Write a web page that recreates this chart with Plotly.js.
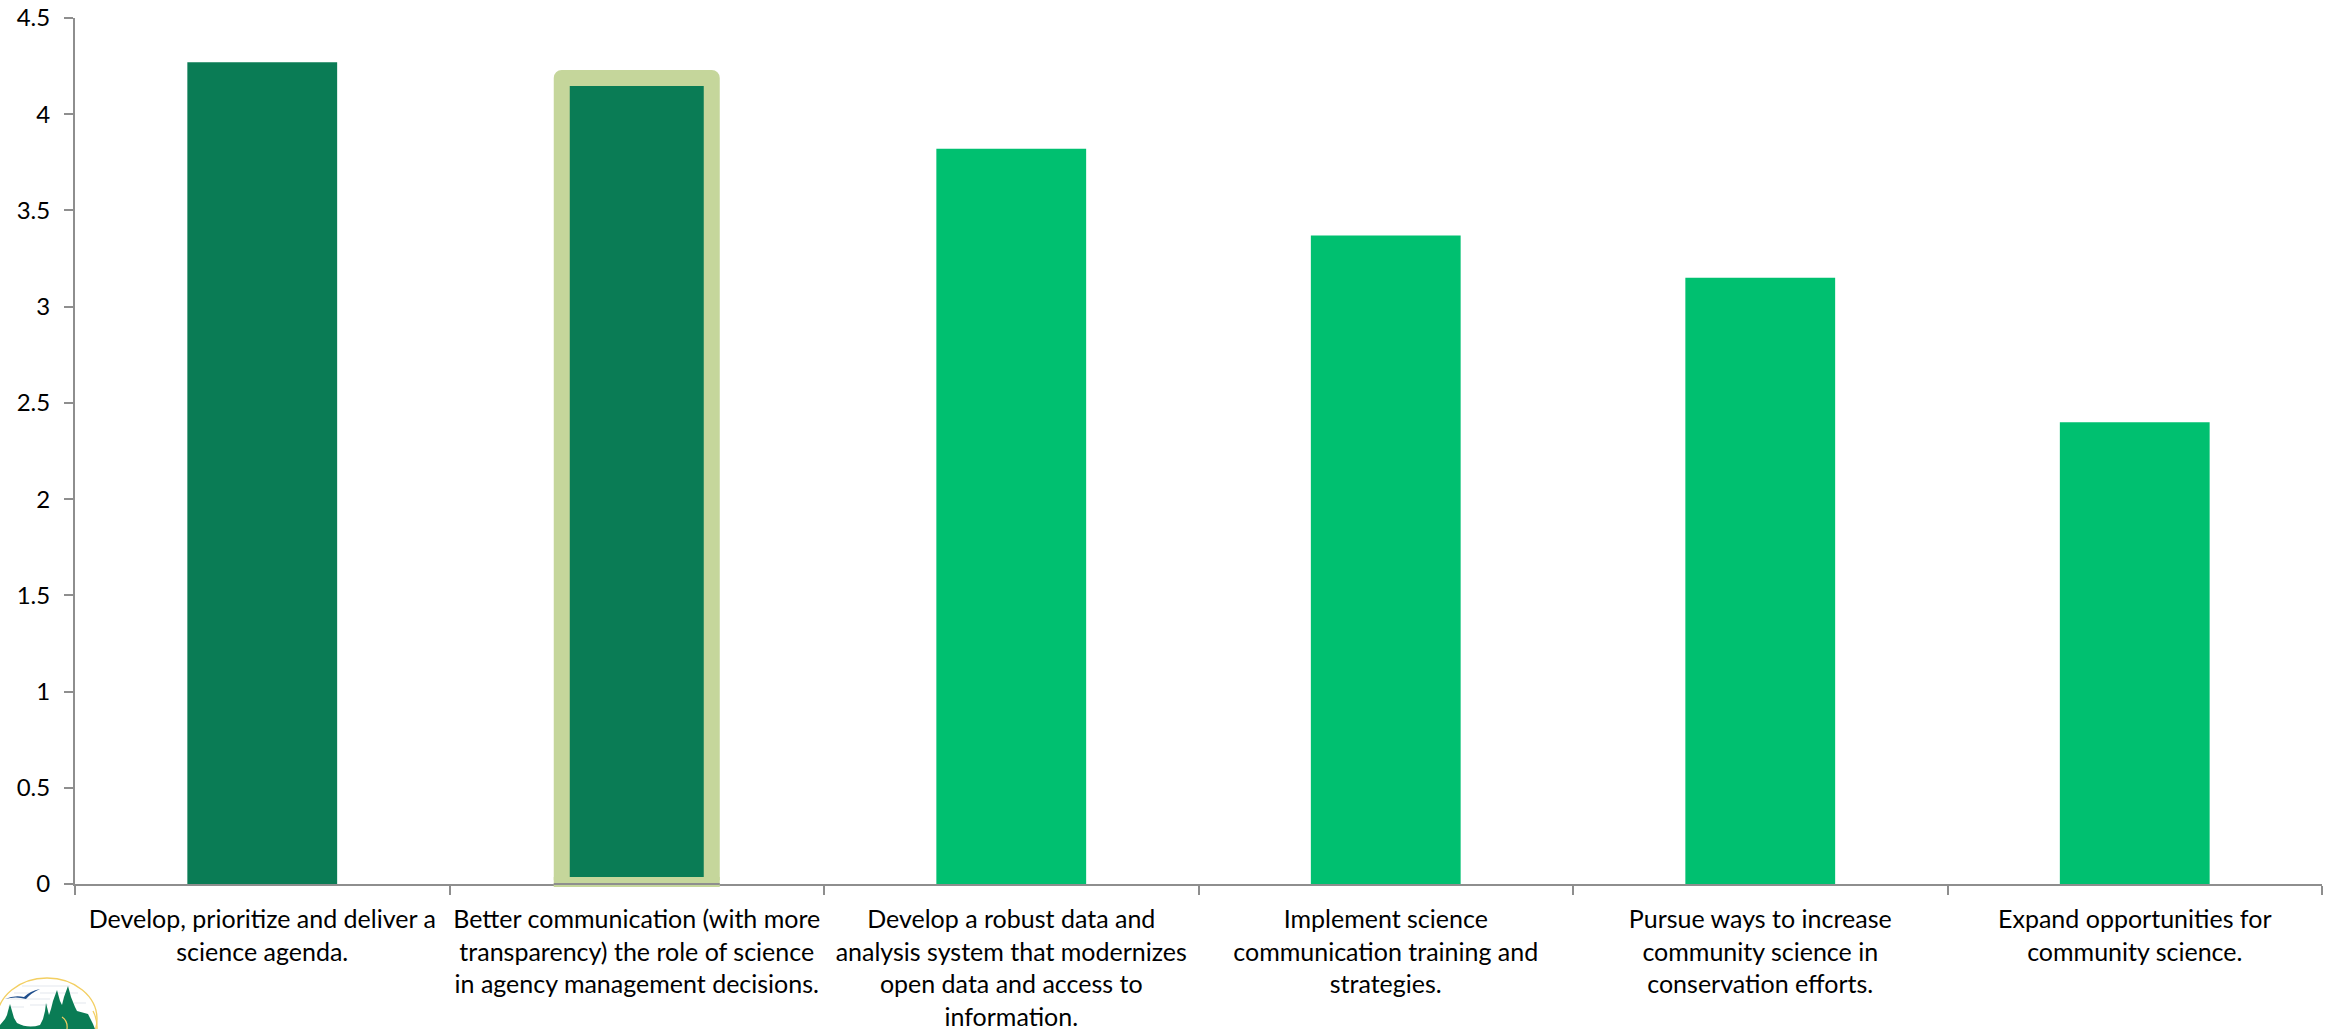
<!DOCTYPE html>
<html><head><meta charset="utf-8">
<script src="https://cdn.plot.ly/plotly-3.0.1.min.js"></script>
<style>html,body{margin:0;padding:0;background:#fff}.shapelayer path{stroke-linejoin:round}</style>
</head><body><div id="chart" style="width:2331px;height:1029px"></div>
<script>
const categories = [
 "Develop, prioritize and deliver a<br>science agenda.",
 "Better communication (with more<br>transparency) the role of science<br>in agency management decisions.",
 "Develop a robust data and<br>analysis system that modernizes<br>open data and access to<br>information.",
 "Implement science<br>communication training and<br>strategies.",
 "Pursue ways to increase<br>community science in<br>conservation efforts.",
 "Expand opportunities for<br>community science."
];
const values = [4.27, 4.19, 3.82, 3.37, 3.15, 2.40];
const barColors = ["#0A7C55","#0A7C55","#00C070","#00C070","#00C070","#00C070"];
const yTicks = [0,0.5,1,1.5,2,2.5,3,3.5,4,4.5];
const W=2331,H=1029,L=75,R=2322,T=18,B=884;
const PW=R-L;
const axisGrey="#8E8E8E", hl="#C5D69B";
const logo = `<svg xmlns="http://www.w3.org/2000/svg" width="120" height="60" viewBox="0 0 120 60">
<ellipse cx="47" cy="50" rx="50" ry="41" fill="#fff" stroke="#F3CF62" stroke-width="1.3"/>
<g stroke="#E3E8EE" stroke-width="1.2"><path d="M22 17H70M14 24H30M40 24H78M10 30H50M8 38H24M30 36H48M74 34H86"/></g>
<path d="M5 30 Q14 26 24 28 Q30 22 40 20 Q31 24 26 30 Q16 27 5 30Z" fill="#1F4E8C"/>
<path d="M0 60 L0 56 L5 50 L7 46 L8 42 L10 35 L12 42 L14 49 L17 54 Q28 60 40 56 L43 50 L45 42 L46 34 L49 46 L51 40 L53 32 L57 21 L60 32 L62 36 L64 28 L68 17 L71 28 L75 38 L77 42 L88 45 L93 55 L95 60Z" fill="#0A7C55"/>
<path d="M62 48 Q68 52 67 60" fill="none" stroke="#F3CF62" stroke-width="1.2"/>
<path d="M97 60 A50 41 0 0 0 93 42" fill="none" stroke="#F3CF62" stroke-width="1.3"/>
</svg>`;
const cx=1, hw=83/(PW/6), inset=8/(PW/6), ty=4.5*(884-78)/866;
Plotly.newPlot('chart',[{
  type:'bar',x:categories,y:values,width:0.4,
  marker:{color:barColors,line:{width:0}},hoverinfo:'skip'
}],{
  width:W,height:H,showlegend:false,paper_bgcolor:'#fff',plot_bgcolor:'#fff',
  margin:{l:L,r:W-R,t:T,b:H-B,pad:0},
  font:{family:'Lato, Carlito, sans-serif',color:'#000'},
  xaxis:{type:'category',categoryorder:'array',categoryarray:categories,range:[-0.5,5.5],tickson:'boundaries',
    ticks:'outside',ticklen:9,tickwidth:2,tickcolor:axisGrey,showline:true,linecolor:axisGrey,linewidth:2,
    ticklabelstandoff:12,showgrid:false,tickangle:0,tickfont:{size:25,family:'Lato, Carlito, sans-serif',color:'#000'},automargin:false},
  yaxis:{range:[0,4.5],tickvals:yTicks,ticktext:yTicks.map(String),
    ticks:'outside',ticklen:9,tickwidth:2,tickcolor:axisGrey,showline:true,linecolor:axisGrey,linewidth:2,
    ticklabelstandoff:9,showgrid:false,zeroline:false,tickfont:{size:24,family:'Lato, Carlito, sans-serif',color:'#000'},automargin:false},
  shapes:[
   {type:'path',layer:'above',xref:'x',yref:'y',
    path:`M ${cx-hw+inset} 0.02 L ${cx-hw+inset} ${ty} L ${cx+hw-inset} ${ty} L ${cx+hw-inset} 0.02`,
    fillcolor:'rgba(0,0,0,0)',line:{color:hl,width:16}},
   {type:'rect',layer:'above',xref:'x',yref:'paper',x0:cx-hw,x1:cx+hw,y0:-3/866,y1:7/866,fillcolor:hl,line:{width:0}},
   {type:'line',layer:'above',xref:'x',yref:'paper',x0:cx-hw,x1:cx+hw,y0:0,y1:0,line:{color:axisGrey,width:2}}
  ],
  images:[{source:'data:image/svg+xml;utf8,'+encodeURIComponent(logo),xref:'paper',yref:'paper',
    x:-L/PW,y:-(969-B)/(B-T),sizex:120/PW,sizey:60/(B-T),xanchor:'left',yanchor:'top',sizing:'stretch',layer:'above'}]
},{displayModeBar:false,staticPlot:true});
</script></body></html>
